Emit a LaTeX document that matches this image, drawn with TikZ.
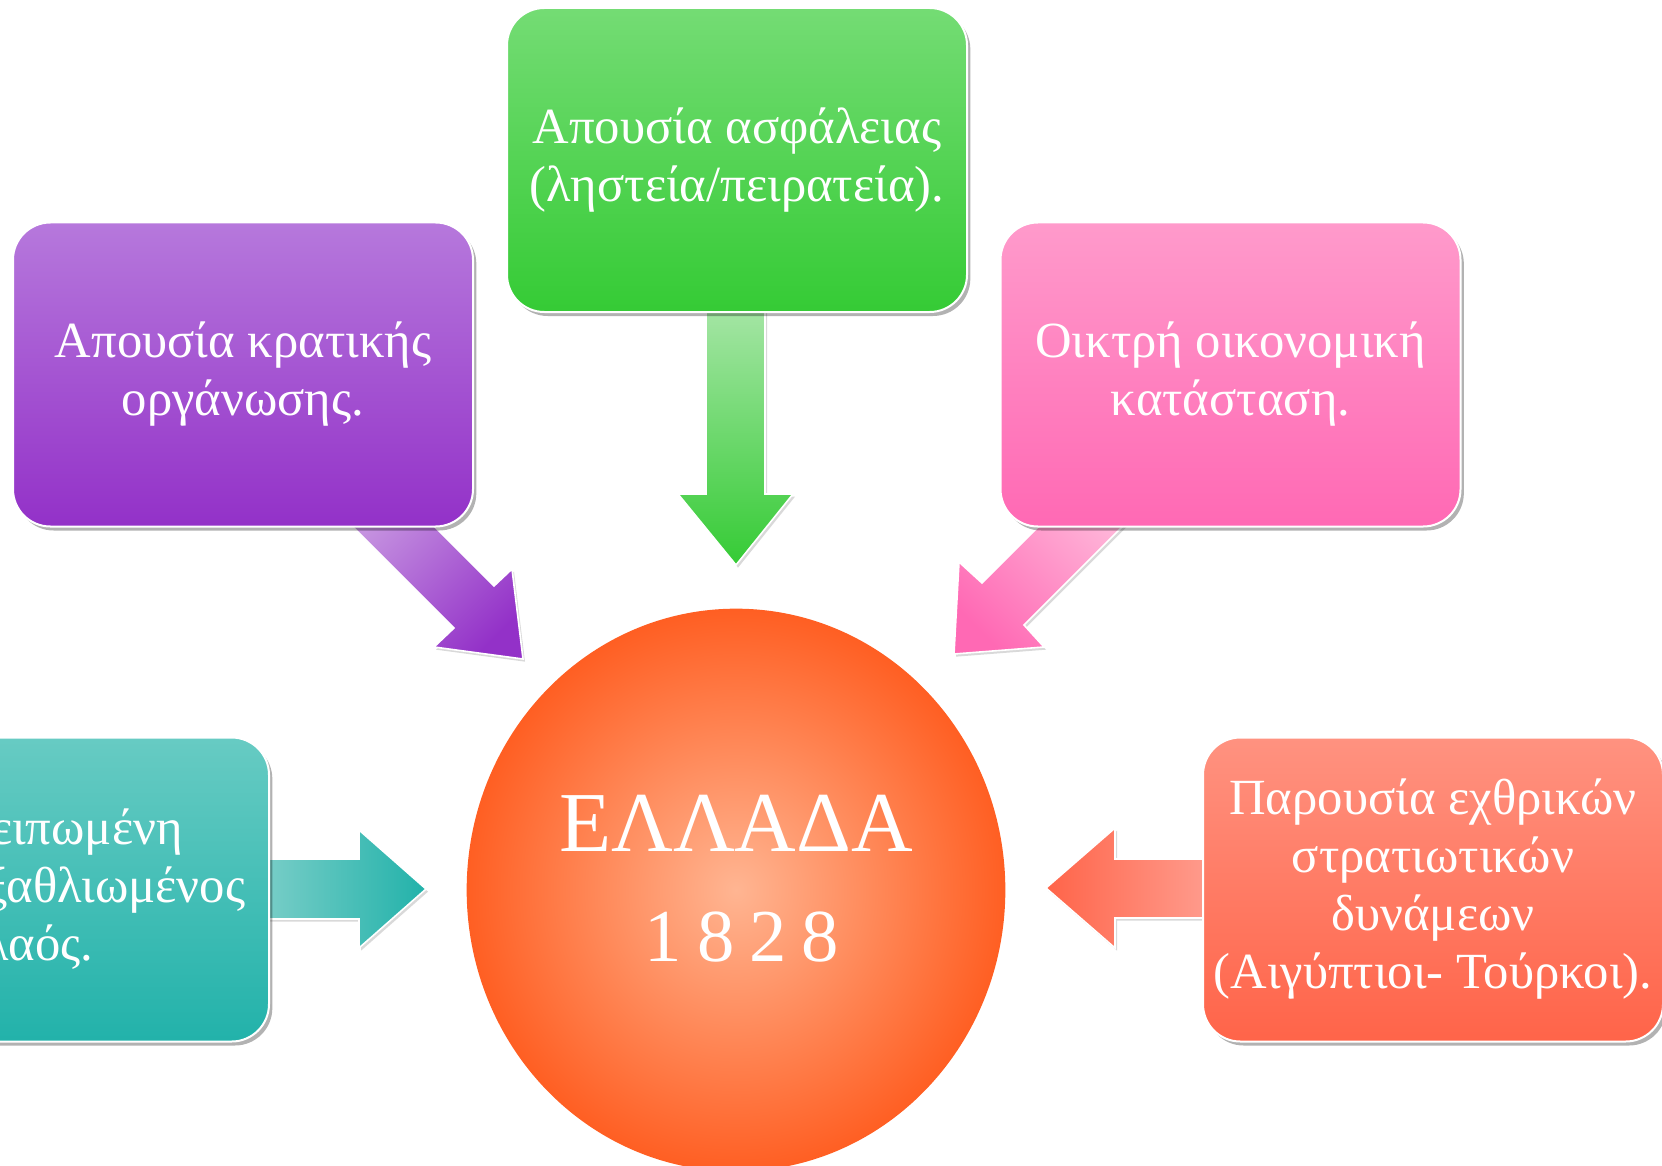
\documentclass[tikz,border=0pt]{standalone}
\usepackage{fontspec}
\setmainfont{Liberation Serif}
\usetikzlibrary{shadows,shapes.geometric}
\definecolor{gTop}{HTML}{74DC74}
\definecolor{gBot}{HTML}{35CB35}
\definecolor{gLight}{HTML}{A8E6A8}
\definecolor{pTop}{HTML}{B678DC}
\definecolor{pBot}{HTML}{9331C8}
\definecolor{pLight}{HTML}{C592E0}
\definecolor{kTop}{HTML}{FF9ACB}
\definecolor{kBot}{HTML}{FF69B4}
\definecolor{kLight}{HTML}{FFB4D8}
\definecolor{tTop}{HTML}{67CBC3}
\definecolor{tBot}{HTML}{22B2AA}
\definecolor{tLight}{HTML}{80D0CA}
\definecolor{rTop}{HTML}{FF9280}
\definecolor{rBot}{HTML}{FF6449}
\definecolor{rLight}{HTML}{FF9E90}
\definecolor{sphC}{HTML}{FFB592}
\definecolor{sphO}{HTML}{FF4A08}
\pgfdeclareradialshading{sphere}{\pgfpoint{0bp}{0bp}}{color(0bp)=(sphC); color(31bp)=(sphO); color(50bp)=(sphO)}
\begin{document}
\begin{tikzpicture}[x=0.75pt,y=-0.75pt,
  box/.style={rectangle, rounded corners=28pt, minimum width=345pt, minimum height=228pt,
    draw=white, line width=1.5pt, text=white, align=center,
    font=\fontsize{38pt}{43.5pt}\selectfont,
    drop shadow={shadow xshift=2.5pt, shadow yshift=-3pt, opacity=0.3, fill=black}},
  blockarrow/.style={draw=white, line width=1.2pt,
    drop shadow={shadow xshift=1.5pt, shadow yshift=-2pt, opacity=0.15, fill=black}}]
\useasboundingbox (0,0) rectangle (1662,1166);
\begin{scope}
\clip (0,0) rectangle (1662,1166);
% arrows
\path[blockarrow, top color=gLight, bottom color=gBot]
  (706,300) -- (765,300) -- (765,494) -- (793,494) -- (736,565) -- (678,494) -- (706,494) -- cycle;
\path[blockarrow, top color=pLight, bottom color=pBot, shading angle=45]
  (336,510) -- (418,510) -- (494,586) -- (512,569) -- (523,659) -- (434,647) -- (454,628) -- cycle;
\path[blockarrow, top color=kLight, bottom color=kBot, shading angle=-45]
  (1139,510) -- (1055,510) -- (982,583) -- (959,562) -- (954,654) -- (1044,647) -- (1024,625) -- cycle;
\path[blockarrow, left color=tLight, right color=tBot]
  (250,859) -- (359,859) -- (359,830) -- (426,889) -- (359,948) -- (359,919) -- (250,919) -- cycle;
\path[blockarrow, left color=rBot, right color=rLight]
  (1215,859) -- (1115,859) -- (1115,828) -- (1046,888) -- (1115,948) -- (1115,918) -- (1215,918) -- cycle;
% boxes
\node[box, top color=gTop, bottom color=gBot] (green) at (737,160)
  {Απουσία ασφάλειας\\(ληστεία/πειρατεία).};
\node[box, top color=pTop, bottom color=pBot] (purple) at (243,374.5)
  {Απουσία κρατικής\\οργάνωσης.};
\node[box, top color=kTop, bottom color=kBot] (pink) at (1230.5,374.5)
  {Οικτρή οικονομική\\κατάσταση.};
\node[box, top color=tTop, bottom color=tBot] (teal) at (39,889.5)
  {Η ερειπωμένη\\χώρα, εξαθλιωμένος\\λαός.};
\node[box, top color=rTop, bottom color=rBot] (red) at (1433,889.5)
  {Παρουσία εχθρικών\\στρατιωτικών\\δυνάμεων\\(Αιγύπτιοι- Τούρκοι).};
% centre
\node[ellipse, minimum width=404pt, minimum height=422pt, inner sep=0pt, shading=sphere] (hellas) at (736,890) {};
\node[text=white, font=\fontsize{64pt}{64pt}\selectfont] (title) at (736,823) {ΕΛΛΑΔΑ};
\node[text=white, font=\fontsize{56pt}{56pt}\selectfont\addfontfeature{LetterSpace=20}] (year) at (742,937) {1828};
\end{scope}
\end{tikzpicture}
\end{document}
